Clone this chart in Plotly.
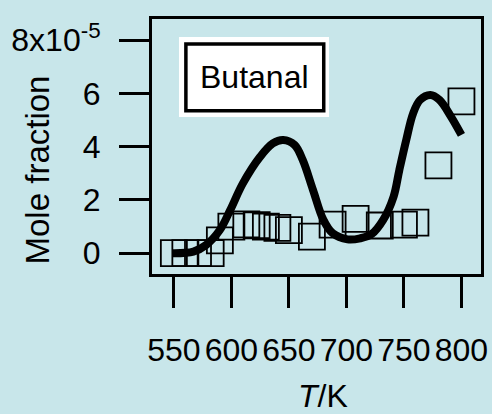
import plotly.graph_objects as go

# Measured butanal mole fractions (units of 1e-5) vs temperature
temp_meas = [550, 560, 571, 582, 590, 600, 613, 622, 630, 640, 650, 670,
             688, 708, 729, 750, 760, 780, 800]
frac_meas = [0.0, 0.0, 0.0, 0.0, 0.48, 1.0, 1.08, 1.05, 1.0, 0.95, 0.87,
             0.62, 1.07, 1.29, 1.04, 1.07, 1.15, 3.3, 5.7]

# Model prediction
temp_model = [549, 567, 578, 590, 599, 610, 625, 636, 645, 655, 662, 671,
              680, 688, 701, 712, 722, 732, 741, 746, 752, 758, 764, 773,
              781, 791, 800]
frac_model = [0.0, 0.06, 0.31, 0.87, 1.62, 2.62, 3.62, 4.12, 4.25, 4.06,
              3.5, 2.37, 1.25, 0.75, 0.52, 0.56, 0.72, 1.25, 2.12, 3.12,
              4.25, 5.25, 5.75, 5.94, 5.75, 5.12, 4.44]

x_ticks = [550, 600, 650, 700, 750, 800]
y_ticks = [0, 2, 4, 6, 8]
y_ticktext = ["0", "2", "4", "6", "8x10<sup>-5</sup>"]

BG = "#C8E6EA"
FONT = "Liberation Sans, Arial, sans-serif"

fig = go.Figure()
fig.add_trace(go.Scatter(
    x=temp_model, y=frac_model, mode="lines",
    line=dict(color="black", width=8, shape="spline", smoothing=1.0),
    hoverinfo="skip",
))
fig.add_trace(go.Scatter(
    x=temp_meas, y=frac_meas, mode="markers",
    marker=dict(symbol="square-open", size=26, color="black",
                line=dict(width=1.8, color="black")),
))

# Label box with white surround
fig.add_shape(type="rect", xref="x domain", yref="y domain",
              x0=0.082, x1=0.538, y0=0.616, y1=0.929,
              fillcolor="white", line=dict(width=0), layer="above")
fig.add_shape(type="rect", xref="x domain", yref="y domain",
              x0=0.103, x1=0.522, y0=0.640, y1=0.902,
              fillcolor="white", line=dict(width=3.5, color="black"),
              layer="above")
fig.add_annotation(text="Butanal", xref="x domain", yref="y domain",
                   x=0.312, y=0.771, showarrow=False,
                   xanchor="center", yanchor="middle",
                   font=dict(size=32, color="black", family=FONT))

# Axis titles
fig.add_annotation(text="Mole fraction", xref="paper", yref="paper",
                   x=-0.348, y=0.408, textangle=-90, showarrow=False,
                   xanchor="center", yanchor="middle",
                   font=dict(size=33, color="black", family=FONT))
fig.add_annotation(text="<i>T</i>/K", xref="paper", yref="paper",
                   x=0.52, y=-0.478, showarrow=False,
                   xanchor="center", yanchor="middle",
                   font=dict(size=32, color="black", family=FONT))

fig.update_layout(
    width=492, height=414,
    margin=dict(l=152, r=11, t=19, b=140),
    paper_bgcolor=BG, plot_bgcolor=BG,
    showlegend=False,
    font=dict(family=FONT, size=32, color="black"),
    xaxis=dict(range=[531, 817], tickvals=x_ticks, tickangle=0,
               automargin=False, showgrid=False, zeroline=False,
               showline=True, linecolor="black", linewidth=3, mirror=True,
               ticks="outside", ticklen=31, tickwidth=3, tickcolor="black",
               ticklabelstandoff=15),
    yaxis=dict(range=[-0.78, 8.79], tickvals=y_ticks, ticktext=y_ticktext,
               automargin=False, showgrid=False, zeroline=False,
               showline=True, linecolor="black", linewidth=3, mirror=True,
               ticks="outside", ticklen=30, tickwidth=3, tickcolor="black",
               ticklabelstandoff=12),
)

fig.write_html("out.html")
